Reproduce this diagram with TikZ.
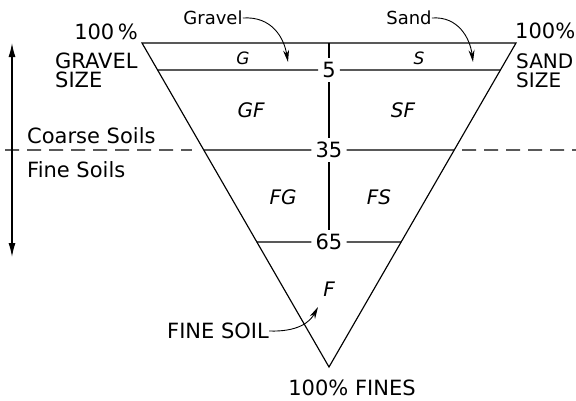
\documentclass[tikz,border=0pt]{standalone}
\usepackage{fontspec}
\setmainfont{DejaVu Sans}
\usetikzlibrary{arrows.meta, calc}

\begin{document}
\begin{tikzpicture}[x=1pt, y=-1pt,
  edge/.style={line width=1.15pt},
  lbl/.style={font=\fontsize{21}{23}\selectfont, inner sep=0pt},
  small/.style={font=\fontsize{18}{20}\selectfont, inner sep=0pt},
  zone/.style={font=\fontsize{#1}{20}\selectfont\itshape, inner sep=0pt},
  zone/.default=20,
  pct/.style={font=\fontsize{21}{23}\selectfont, inner sep=4pt},
  tip/.style={-{Stealth[length=12pt,width=6pt]}, line width=0.9pt},
  split/.style={edge, dash pattern=on 14pt off 8pt},
]
\useasboundingbox (0,0) rectangle (576,400);

%% Corners of the triangle
\coordinate (gv) at (142,43);
\coordinate (sd) at (516,43);
\coordinate (fn) at (329,367);
\coordinate (top) at (329,43);
\draw[edge, line join=miter] (gv) -- (sd) -- (fn) -- cycle;

%% Percent-fines lines
\foreach \y/\lab in {70/5, 150/35, 242/65} {
  \node[pct] (p\lab) at (329,\y) {\lab};
  \draw[edge] ($(gv)!{(\y-43)/324}!(fn)$) coordinate (l\lab) -- (p\lab);
  \draw[edge] (p\lab) -- ($(sd)!{(\y-43)/324}!(fn)$) coordinate (r\lab);
}
\draw[edge] (top) -- (p5);
\draw[edge] (p5) -- (p35);
\draw[edge] (p35) -- (p65);

%% Coarse / fine boundary
\coordinate (dl) at (5,150);
\coordinate (dr) at (576,150);
\draw[split] (dl) -- ($(l35)+(-12,0)$);
\draw[split] ($(r35)+(8,0)$) -- (dr);

%% Zone letters
\node[zone=17] (g) at (243,58) {G};
\node[zone=17] (s) at (419,58) {S};
\node[zone] (gf) at (251,110) {GF};
\node[zone] (sf) at (403,110) {SF};
\node[zone] (fg) at (283,197) {FG};
\node[zone] (fs) at (379,197) {FS};
\node[zone] (f) at (329,289) {F};

%% Corner labels
\node[lbl, anchor=east] (gvpct) at (138,32) {100\,\%};
\node[lbl, anchor=west] (gvname) at (55,61) {GRAVEL};
\node[lbl, anchor=west] (gvsize) at (55,80) {SIZE};
\node[lbl, anchor=west] (sdpct) at (515,31) {100\%};
\node[lbl, anchor=west, font=\fontsize{20}{22}\selectfont] (sdname) at (516,61) {SAND};
\node[lbl, anchor=west, font=\fontsize{20}{22}\selectfont] (sdsize) at (516,80) {SIZE};
\node[lbl] (fnpct) at (352,388) {100\% FINES};

%% Soil groups
\node[lbl, anchor=west] (coarse) at (27,136) {Coarse Soils};
\node[lbl, anchor=west] (fine) at (27,170) {Fine Soils};
\coordinate (up) at (12,43);
\coordinate (down) at (12,257);
\draw[line width=1.3pt, {Latex[length=14pt,width=7pt]}-{Latex[length=14pt,width=7pt]}] (up) -- (down);

%% Pointers
\node[small] (gravel) at (213,18) {Gravel};
\coordinate (gtip) at (288,62);
\draw[tip] (gravel.east) .. controls (272,16) and (284,38) .. (gtip);
\node[small] (sand) at (409,18) {Sand};
\coordinate (stip) at (473,62);
\draw[tip] (sand.east) .. controls (458,16) and (470,38) .. (stip);
\node[lbl, anchor=west] (finesoil) at (167,331) {FINE SOIL};
\coordinate (ftip) at (318,307);
\draw[tip] (finesoil.east) .. controls (298,332) and (310,322) .. (ftip);
\end{tikzpicture}
\end{document}
